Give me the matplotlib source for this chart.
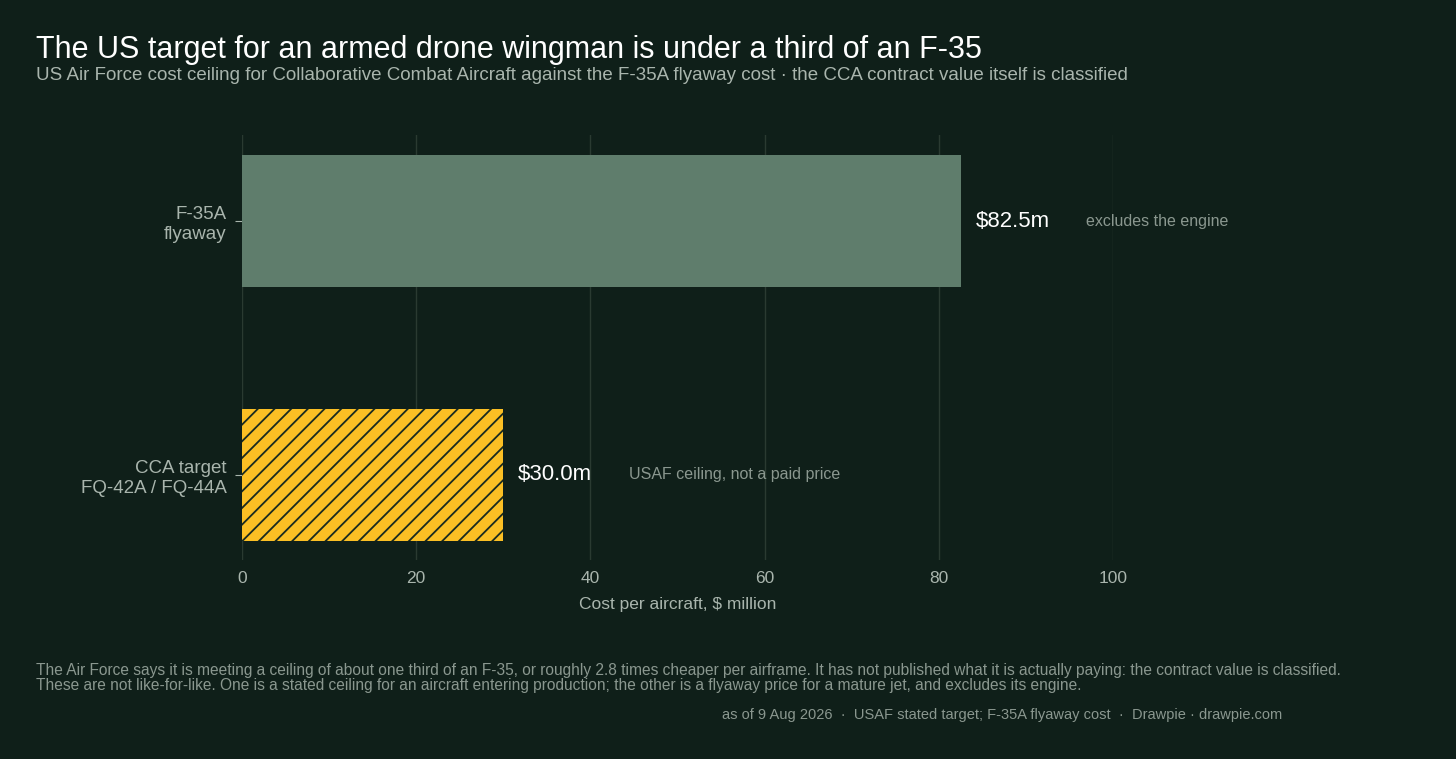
import matplotlib
matplotlib.use("Agg")
import matplotlib.pyplot as plt

plt.rcParams['font.family'] = ['Liberation Sans', 'DejaVu Sans']
plt.rcParams['hatch.linewidth'] = 1.3

categories = ["CCA target\nFQ-42A / FQ-44A", "F-35A\nflyaway"]
values = [30.0, 82.5]
value_labels = ["$30.0m", "$82.5m"]
notes = ["USAF ceiling, not a paid price", "excludes the engine"]
xticks = [0, 20, 40, 60, 80, 100]

BG = "#0f1f19"
W, H = 1456, 759
fig = plt.figure(figsize=(W/100, H/100), dpi=100, facecolor=BG)
ax = fig.add_axes([242/W, 1-560/H, (1113-242)/W, (560-135)/H], facecolor=BG)

ax.barh([0], [values[0]], height=0.52, color="#fbbf24", edgecolor="#1a2a20", hatch="//", linewidth=0)
ax.barh([1], [values[1]], height=0.52, color="#5f7d6c", linewidth=0)
ax.set_xlim(0, 100)
ax.set_ylim(-0.335, 1.339)
ax.set_xticks(xticks)
ax.set_yticks([0, 1])
ax.set_yticklabels(categories, fontsize=13.5, color="#a9b5ad")
ax.tick_params(axis='x', colors="#a9b5ad", labelsize=12.5, length=0, pad=8)
ax.tick_params(axis='y', colors="#a9b5ad", length=5, pad=6)
ax.grid(axis='x', color="#2a3a31", linewidth=1)
ax.set_axisbelow(True)
for s in ax.spines.values():
    s.set_visible(False)
ax.set_xlabel("Cost per aircraft, $ million", color="#a9b5ad", fontsize=12.5, labelpad=8)

for i, v in enumerate(values):
    ax.text(v + 1.7, i, value_labels[i], color="#ffffff", fontsize=16, va='center', clip_on=False)
    ax.text(v + 14.4, i, notes[i], color="#8a978f", fontsize=11.5, va='center', clip_on=False)

fig.text(36/W, 1-50/H, "The US target for an armed drone wingman is under a third of an F-35",
         color="#ffffff", fontsize=22, va='center')
fig.text(36/W, 1-76/H, "US Air Force cost ceiling for Collaborative Combat Aircraft against the F-35A flyaway cost · the CCA contract value itself is classified",
         color="#a9b5ad", fontsize=13.5, va='center')
fig.text(36/W, 1-678/H, "The Air Force says it is meeting a ceiling of about one third of an F-35, or roughly 2.8 times cheaper per airframe. It has not published what it is actually paying: the contract value is classified.\nThese are not like-for-like. One is a stated ceiling for an aircraft entering production; the other is a flyaway price for a mature jet, and excludes its engine.",
         color="#8a978f", fontsize=11.2, va='center', linespacing=1.0)
fig.text(1282/W, 1-715/H, "as of 9 Aug 2026  ·  USAF stated target; F-35A flyaway cost  ·  Drawpie · drawpie.com",
         color="#8a978f", fontsize=10.5, va='center', ha='right')

fig.savefig("out.png", dpi=100, facecolor=BG)
